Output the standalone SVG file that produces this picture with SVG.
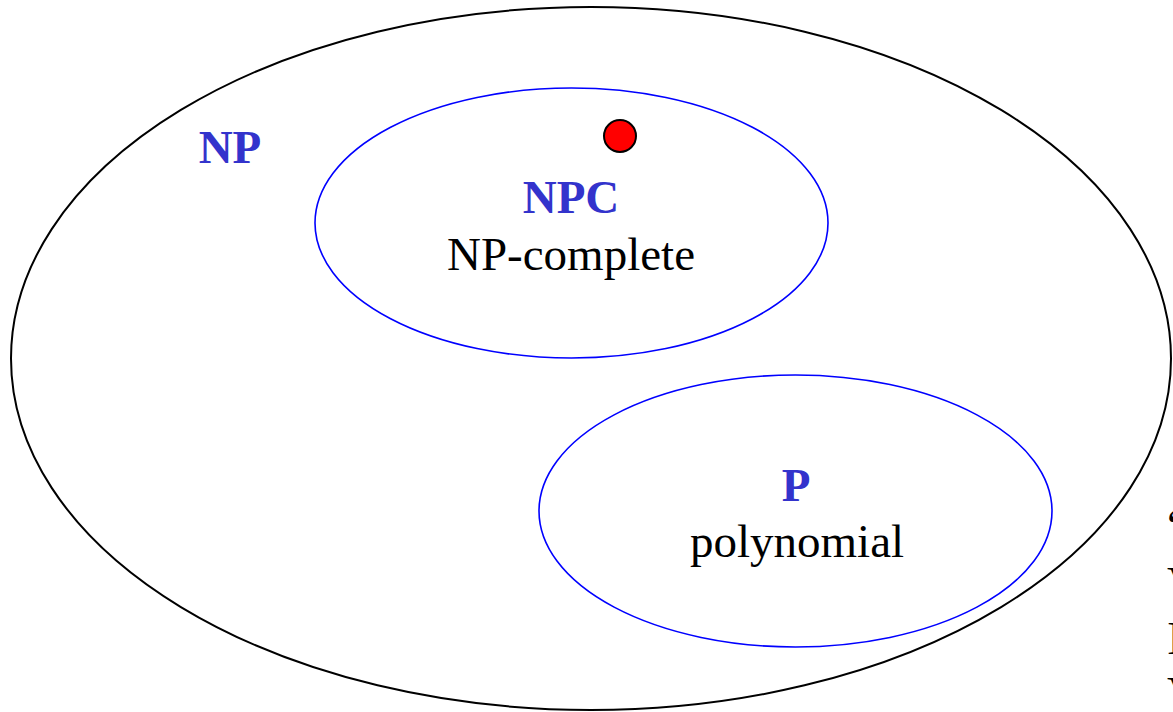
<svg xmlns="http://www.w3.org/2000/svg" width="1173" height="712" viewBox="0 0 1173 712">
<style>
.lbl{font-family:"Liberation Serif","Times New Roman",serif;font-size:47px;font-weight:bold;fill:#3333cc;text-anchor:middle}
.sub{font-family:"Liberation Serif","Times New Roman",serif;font-size:47px;fill:#000;text-anchor:middle}
.edge{font-family:"Liberation Serif","Times New Roman",serif;font-size:47px;fill:#000}
.set{fill:none;stroke:#0000ff;stroke-width:1.6}
</style>
<rect width="1173" height="712" fill="#fff"/>
<g id="NP">
<ellipse cx="591" cy="358.5" rx="580" ry="351.5" fill="none" stroke="#000" stroke-width="2"/>
<text class="lbl" x="230" y="163">NP</text>
</g>
<g id="NPC">
<ellipse class="set" cx="571.5" cy="223" rx="256.5" ry="135"/>
<text class="lbl" x="571" y="213">NPC</text>
<text class="sub" x="571" y="270">NP-complete</text>
</g>
<g id="P">
<ellipse class="set" cx="795.5" cy="511" rx="256.5" ry="136"/>
<text class="lbl" x="796" y="501">P</text>
<text class="sub" x="797" y="557">polynomial</text>
</g>
<g id="dot">
<circle cx="620" cy="136" r="16" fill="#ff0000" stroke="#000" stroke-width="2"/>
</g>
<g id="edge-text">
<text class="edge" x="1167" y="541">“</text>
<text class="edge" x="1167" y="599">V</text>
<text class="edge" x="1167" y="654">I</text>
<text class="edge" x="1167" y="709">V</text>
</g>
<g id="connectors"></g>
</svg>
